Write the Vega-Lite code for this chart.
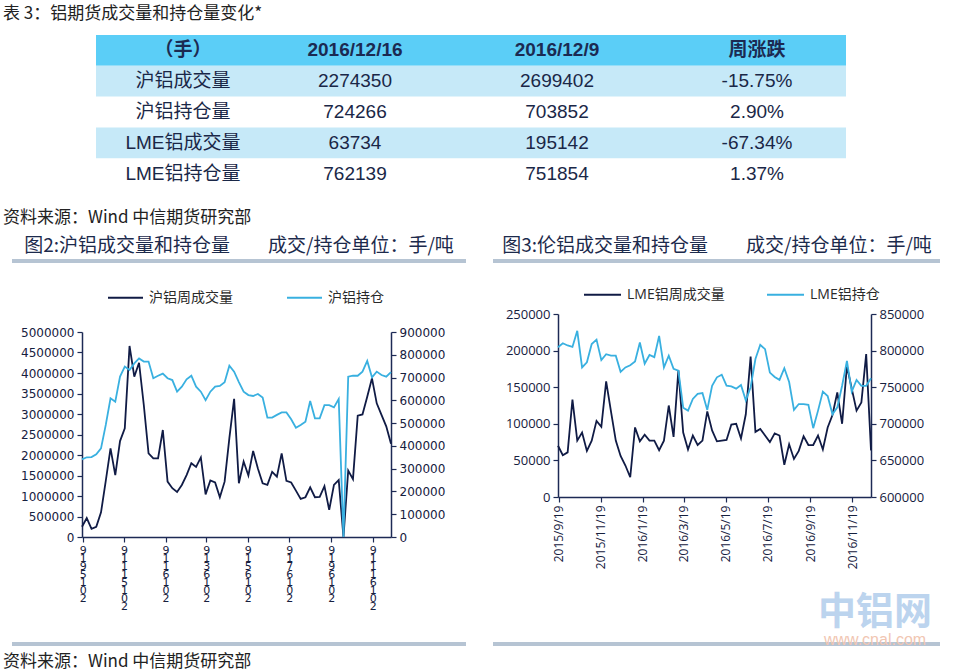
{
 "$schema": "https://vega.github.io/schema/vega-lite/v6.json",
 "background": "white",
 "padding": {"left": 3, "top": 5, "right": 3, "bottom": 1},
 "config": {
   "view": {"stroke": null},
   "font": "Noto Sans CJK SC",
   "title": {"font": "Noto Sans CJK SC", "fontWeight": "normal", "color": "#1C2A4C"},
   "axis": {"grid": false, "domainColor": "#1D2A55", "tickColor": "#1D2A55", "labelColor": "#16203E", "domainWidth": 1.5, "tickWidth": 1.2, "tickSize": 5, "labelPadding": 3},
   "legend": {"symbolType": "stroke", "symbolStrokeWidth": 1.8, "labelColor": "#2A2A2A"}
 },
 "resolve": {"scale": {"color": "independent"}, "legend": {"color": "independent"}},
 "datasets": {
  "sh": [
   {"date":"2015/09/18","vol":250000,"oi":341000},
   {"date":"2015/09/25","vol":460000,"oi":350000},
   {"date":"2015/10/02","vol":200000,"oi":351000},
   {"date":"2015/10/09","vol":250000,"oi":363000},
   {"date":"2015/10/16","vol":600000,"oi":389000},
   {"date":"2015/10/23","vol":1370000,"oi":492000},
   {"date":"2015/10/30","vol":2160000,"oi":609000},
   {"date":"2015/11/06","vol":1510000,"oi":594000},
   {"date":"2015/11/13","vol":2340000,"oi":704000},
   {"date":"2015/11/20","vol":2650000,"oi":748000},
   {"date":"2015/11/27","vol":4660000,"oi":733000},
   {"date":"2015/12/04","vol":3910000,"oi":762000},
   {"date":"2015/12/11","vol":4250000,"oi":784000},
   {"date":"2015/12/18","vol":3220000,"oi":770000},
   {"date":"2015/12/25","vol":2040000,"oi":770000},
   {"date":"2016/01/01","vol":1920000,"oi":697000},
   {"date":"2016/01/08","vol":1920000,"oi":708000},
   {"date":"2016/01/15","vol":2610000,"oi":717000},
   {"date":"2016/01/22","vol":1350000,"oi":697000},
   {"date":"2016/01/29","vol":1190000,"oi":689000},
   {"date":"2016/02/05","vol":1100000,"oi":638000},
   {"date":"2016/02/12","vol":1270000,"oi":660000},
   {"date":"2016/02/19","vol":1510000,"oi":692000},
   {"date":"2016/02/26","vol":1800000,"oi":708000},
   {"date":"2016/03/04","vol":1710000,"oi":660000},
   {"date":"2016/03/11","vol":1940000,"oi":638000},
   {"date":"2016/03/18","vol":1040000,"oi":601000},
   {"date":"2016/03/25","vol":1380000,"oi":638000},
   {"date":"2016/04/01","vol":1330000,"oi":660000},
   {"date":"2016/04/08","vol":970000,"oi":663000},
   {"date":"2016/04/15","vol":1350000,"oi":679000},
   {"date":"2016/04/22","vol":2410000,"oi":752000},
   {"date":"2016/04/29","vol":3370000,"oi":726000},
   {"date":"2016/05/06","vol":1310000,"oi":680000},
   {"date":"2016/05/13","vol":1840000,"oi":638000},
   {"date":"2016/05/20","vol":1500000,"oi":623000},
   {"date":"2016/05/27","vol":2100000,"oi":619000},
   {"date":"2016/06/03","vol":1670000,"oi":628000},
   {"date":"2016/06/10","vol":1310000,"oi":612000},
   {"date":"2016/06/17","vol":1270000,"oi":524000},
   {"date":"2016/06/24","vol":1590000,"oi":524000},
   {"date":"2016/07/01","vol":1470000,"oi":536000},
   {"date":"2016/07/08","vol":2040000,"oi":547000},
   {"date":"2016/07/15","vol":1370000,"oi":547000},
   {"date":"2016/07/22","vol":1330000,"oi":517000},
   {"date":"2016/07/29","vol":1130000,"oi":480000},
   {"date":"2016/08/05","vol":930000,"oi":492000},
   {"date":"2016/08/12","vol":970000,"oi":506000},
   {"date":"2016/08/19","vol":1210000,"oi":597000},
   {"date":"2016/08/26","vol":970000,"oi":521000},
   {"date":"2016/09/02","vol":980000,"oi":521000},
   {"date":"2016/09/09","vol":1240000,"oi":579000},
   {"date":"2016/09/16","vol":660000,"oi":579000},
   {"date":"2016/09/23","vol":1270000,"oi":569000},
   {"date":"2016/09/30","vol":1390000,"oi":606000},
   {"date":"2016/10/07","vol":0,"oi":0},
   {"date":"2016/10/14","vol":1620000,"oi":704000},
   {"date":"2016/10/21","vol":1410000,"oi":708000},
   {"date":"2016/10/28","vol":2960000,"oi":708000},
   {"date":"2016/11/04","vol":2990000,"oi":726000},
   {"date":"2016/11/11","vol":3420000,"oi":773000},
   {"date":"2016/11/18","vol":3870000,"oi":701000},
   {"date":"2016/11/25","vol":3260000,"oi":726000},
   {"date":"2016/12/02","vol":2980000,"oi":711000},
   {"date":"2016/12/09","vol":2699402,"oi":703852},
   {"date":"2016/12/16","vol":2274350,"oi":724266}
  ],
  "lme": [
   {"date":"2015/09/18","vol":70000,"oi":804500},
   {"date":"2015/09/25","vol":57000,"oi":810000},
   {"date":"2015/10/02","vol":61000,"oi":807000},
   {"date":"2015/10/09","vol":133000,"oi":805000},
   {"date":"2015/10/16","vol":77000,"oi":827000},
   {"date":"2015/10/23","vol":88000,"oi":777000},
   {"date":"2015/10/30","vol":63000,"oi":784000},
   {"date":"2015/11/06","vol":77000,"oi":809000},
   {"date":"2015/11/13","vol":104000,"oi":815000},
   {"date":"2015/11/20","vol":96000,"oi":787000},
   {"date":"2015/11/27","vol":158000,"oi":795000},
   {"date":"2015/12/04","vol":117000,"oi":793000},
   {"date":"2015/12/11","vol":77000,"oi":793000},
   {"date":"2015/12/18","vol":56000,"oi":771000},
   {"date":"2015/12/25","vol":43000,"oi":777000},
   {"date":"2016/01/01","vol":27000,"oi":780000},
   {"date":"2016/01/08","vol":95000,"oi":785000},
   {"date":"2016/01/15","vol":76000,"oi":811000},
   {"date":"2016/01/22","vol":85000,"oi":782000},
   {"date":"2016/01/29","vol":77000,"oi":794000},
   {"date":"2016/02/05","vol":77000,"oi":791000},
   {"date":"2016/02/12","vol":64000,"oi":820000},
   {"date":"2016/02/19","vol":77000,"oi":777000},
   {"date":"2016/02/26","vol":125000,"oi":793000},
   {"date":"2016/03/04","vol":82000,"oi":775000},
   {"date":"2016/03/11","vol":173000,"oi":772500},
   {"date":"2016/03/18","vol":88000,"oi":722000},
   {"date":"2016/03/25","vol":65000,"oi":718000},
   {"date":"2016/04/01","vol":84000,"oi":734000},
   {"date":"2016/04/08","vol":71000,"oi":741000},
   {"date":"2016/04/15","vol":77000,"oi":742000},
   {"date":"2016/04/22","vol":117000,"oi":719000},
   {"date":"2016/04/29","vol":91000,"oi":752000},
   {"date":"2016/05/06","vol":76000,"oi":763500},
   {"date":"2016/05/13","vol":77000,"oi":767000},
   {"date":"2016/05/20","vol":78000,"oi":752000},
   {"date":"2016/05/27","vol":99000,"oi":751000},
   {"date":"2016/06/03","vol":100000,"oi":748000},
   {"date":"2016/06/10","vol":80000,"oi":753000},
   {"date":"2016/06/17","vol":113000,"oi":732000},
   {"date":"2016/06/24","vol":192000,"oi":750000},
   {"date":"2016/07/01","vol":89000,"oi":788500},
   {"date":"2016/07/08","vol":93000,"oi":808000},
   {"date":"2016/07/15","vol":84000,"oi":802000},
   {"date":"2016/07/22","vol":75000,"oi":770000},
   {"date":"2016/07/29","vol":87000,"oi":764000},
   {"date":"2016/08/05","vol":84000,"oi":760000},
   {"date":"2016/08/12","vol":44000,"oi":776000},
   {"date":"2016/08/19","vol":72000,"oi":757000},
   {"date":"2016/08/26","vol":52000,"oi":719000},
   {"date":"2016/09/02","vol":63000,"oi":727000},
   {"date":"2016/09/09","vol":83000,"oi":727000},
   {"date":"2016/09/16","vol":71000,"oi":726000},
   {"date":"2016/09/23","vol":71000,"oi":694000},
   {"date":"2016/09/30","vol":84000,"oi":718000},
   {"date":"2016/10/07","vol":65000,"oi":744000},
   {"date":"2016/10/14","vol":95000,"oi":738000},
   {"date":"2016/10/21","vol":112000,"oi":713000},
   {"date":"2016/10/28","vol":143000,"oi":722500},
   {"date":"2016/11/04","vol":100000,"oi":752000},
   {"date":"2016/11/11","vol":179000,"oi":786000},
   {"date":"2016/11/18","vol":148000,"oi":744000},
   {"date":"2016/11/25","vol":118000,"oi":760000},
   {"date":"2016/12/02","vol":129000,"oi":752000},
   {"date":"2016/12/09","vol":195142,"oi":751854},
   {"date":"2016/12/16","vol":63734,"oi":762139}
  ],
  "table": [
   {"item":"（手）","c1216":"2016/12/16","c129":"2016/12/9","chg":"周涨跌"},
   {"item":"沪铝成交量","c1216":"2274350","c129":"2699402","chg":"-15.75%"},
   {"item":"沪铝持仓量","c1216":"724266","c129":"703852","chg":"2.90%"},
   {"item":"LME铝成交量","c1216":"63734","c129":"195142","chg":"-67.34%"},
   {"item":"LME铝持仓量","c1216":"762139","c129":"751854","chg":"1.37%"}
  ]
 },
 "title": {"text": "资料来源：Wind 中信期货研究部", "orient": "bottom", "anchor": "start", "fontSize": 17, "color": "#222222", "offset": 6},
 "spacing": 20,
 "vconcat": [
  {
   "width": 770, "height": 154,
   "title": {"text": "表 3：铝期货成交量和持仓量变化*", "anchor": "start", "fontSize": 17, "color": "#222222", "offset": 12, "dx": -79},
   "data": {"name": "table"},
   "encoding": {"y": {"field": "item", "type": "nominal", "sort": null, "scale": {"domain": ["（手）","沪铝成交量","沪铝持仓量","LME铝成交量","LME铝持仓量"], "paddingInner": 0, "paddingOuter": 0}, "axis": null}},
   "layer": [
    {"transform": [{"filter": "datum.item === '（手）'"}], "mark": {"type": "rect", "color": "#5BCEF7"},
     "encoding": {
      "x": {"datum": 0, "type": "quantitative", "scale": {"domain": [0,1,2,3,4,5], "range": [14,101,273,475,675,764], "nice": false, "zero": false}, "axis": null},
      "x2": {"datum": 5}}},
    {"transform": [{"filter": "datum.item === '沪铝成交量' || datum.item === 'LME铝成交量'"}], "mark": {"type": "rect", "color": "#C6E9F8"},
     "encoding": {"x": {"datum": 0, "type": "quantitative"}, "x2": {"datum": 5}}},
    {"transform": [{"filter": "datum.item === '（手）'"}], "mark": {"type": "text", "font": "Liberation Sans, Noto Sans CJK SC", "fontSize": 19, "fontWeight": "bold", "color": "#1B2A52"}, "encoding": {"x": {"datum": 1, "type": "quantitative"}, "text": {"field": "item"}}},
    {"transform": [{"filter": "datum.item === '（手）'"}], "mark": {"type": "text", "font": "Liberation Sans, Noto Sans CJK SC", "fontSize": 19, "fontWeight": "bold", "color": "#1B2A52"}, "encoding": {"x": {"datum": 2, "type": "quantitative"}, "text": {"field": "c1216"}}},
    {"transform": [{"filter": "datum.item === '（手）'"}], "mark": {"type": "text", "font": "Liberation Sans, Noto Sans CJK SC", "fontSize": 19, "fontWeight": "bold", "color": "#1B2A52"}, "encoding": {"x": {"datum": 3, "type": "quantitative"}, "text": {"field": "c129"}}},
    {"transform": [{"filter": "datum.item === '（手）'"}], "mark": {"type": "text", "font": "Liberation Sans, Noto Sans CJK SC", "fontSize": 19, "fontWeight": "bold", "color": "#1B2A52"}, "encoding": {"x": {"datum": 4, "type": "quantitative"}, "text": {"field": "chg"}}},
    {"transform": [{"filter": "datum.item !== '（手）'"}], "mark": {"type": "text", "font": "Liberation Sans, Noto Sans CJK SC", "fontSize": 19, "color": "#1A2747"}, "encoding": {"x": {"datum": 1, "type": "quantitative"}, "text": {"field": "item"}}},
    {"transform": [{"filter": "datum.item !== '（手）'"}], "mark": {"type": "text", "font": "Liberation Sans, Noto Sans CJK SC", "fontSize": 19, "color": "#1A2747"}, "encoding": {"x": {"datum": 2, "type": "quantitative"}, "text": {"field": "c1216"}}},
    {"transform": [{"filter": "datum.item !== '（手）'"}], "mark": {"type": "text", "font": "Liberation Sans, Noto Sans CJK SC", "fontSize": 19, "color": "#1A2747"}, "encoding": {"x": {"datum": 3, "type": "quantitative"}, "text": {"field": "c129"}}},
    {"transform": [{"filter": "datum.item !== '（手）'"}], "mark": {"type": "text", "font": "Liberation Sans, Noto Sans CJK SC", "fontSize": 19, "color": "#1A2747"}, "encoding": {"x": {"datum": 4, "type": "quantitative"}, "text": {"field": "chg"}}}
   ]
  },
  {
   "title": {"text": "资料来源：Wind 中信期货研究部", "anchor": "start", "fontSize": 17, "color": "#222222", "offset": 10},
   "spacing": 27,
   "resolve": {"scale": {"color": "independent"}, "legend": {"color": "independent"}},
   "hconcat": [
    {
     "spacing": 31,
     "vconcat": [
      {
       "spacing": 63,
       "vconcat": [
        {
         "width": 384, "height": 4,
         "title": {"text": "图2:沪铝成交量和持仓量　　成交/持仓单位：手/吨", "fontSize": 19, "anchor": "middle", "offset": 3, "color": "#1C2A4C", "dx": -35},
         "data": {"values": [{"k": 1}]},
         "mark": {"type": "rect", "color": "#B6C4D3"},
         "encoding": {
          "x": {"datum": -70, "type": "quantitative", "scale": {"domain": [0, 384], "nice": false, "zero": false}, "axis": null},
          "x2": {"datum": 384},
          "y": {"datum": 0, "type": "quantitative", "scale": {"domain": [0, 1], "nice": false}, "axis": null},
          "y2": {"datum": 1}
         }
        },
        {
         "width": 309, "height": 205,
         "data": {"name": "sh"},
         "encoding": {
          "x": {"field": "date", "type": "temporal",
                "scale": {"domain": [{"year": 2015, "month": 9, "date": 18}, {"year": 2016, "month": 12, "date": 16}]},
                "axis": {"title": null, "values": [{"year":2015,"month":9,"date":19},{"year":2015,"month":11,"date":19},{"year":2016,"month":1,"date":19},{"year":2016,"month":3,"date":19},{"year":2016,"month":5,"date":19},{"year":2016,"month":7,"date":19},{"year":2016,"month":9,"date":19},{"year":2016,"month":11,"date":19}],
                         "labelExpr": "reverse(split(timeFormat(datum.value, '%Y%-m%-d'), ''))",
                         "labelAngle": 0, "labelAlign": "center", "labelBaseline": "top", "labelFont": "DejaVu Sans", "labelFontSize": 11, "labelLineHeight": 8, "labelPadding": 2, "labelOverlap": false, "labelFlush": false}}
         },
         "layer": [
          {"mark": {"type": "line", "strokeWidth": 1.8},
           "encoding": {
            "y": {"field": "vol", "type": "quantitative", "scale": {"domain": [0, 5000000], "nice": false},
                  "axis": {"title": null, "values": [0,500000,1000000,1500000,2000000,2500000,3000000,3500000,4000000,4500000,5000000], "format": "d", "labelFont": "DejaVu Sans", "labelFontSize": 12, "minExtent": 79}},
            "color": {"datum": "沪铝周成交量", "type": "nominal", "scale": {"domain": ["沪铝周成交量", "沪铝持仓"], "range": ["#101B45", "#39B0E0"]},
                      "legend": {"orient": "none", "legendX": 25, "legendY": 20, "direction": "horizontal", "title": null, "labelFont": "Noto Sans CJK SC", "labelFontSize": 14, "symbolSize": 1225, "labelOffset": 5, "columnPadding": 50}}
           }},
          {"mark": {"type": "line", "strokeWidth": 1.8},
           "encoding": {
            "y": {"field": "oi", "type": "quantitative", "scale": {"domain": [0, 900000], "nice": false},
                  "axis": {"title": null, "orient": "right", "values": [0,100000,200000,300000,400000,500000,600000,700000,800000,900000], "format": "d", "labelFont": "DejaVu Sans", "labelFontSize": 12}},
            "color": {"datum": "沪铝持仓", "type": "nominal", "scale": {"domain": ["沪铝周成交量", "沪铝持仓"], "range": ["#101B45", "#39B0E0"]}}
           }}
         ],
         "resolve": {"scale": {"y": "independent"}}
        }
       ]
      },
      {
       "width": 384, "height": 4,
       "data": {"values": [{"k": 1}]},
       "mark": {"type": "rect", "color": "#B6C4D3"},
       "encoding": {
        "x": {"datum": -70, "type": "quantitative", "scale": {"domain": [0, 384], "nice": false, "zero": false}, "axis": null},
        "x2": {"datum": 384},
        "y": {"datum": 0, "type": "quantitative", "scale": {"domain": [0, 1], "nice": false}, "axis": null},
        "y2": {"datum": 1}
       }
      }
     ]
    },
    {
     "spacing": 25,
     "vconcat": [
      {
       "spacing": 45,
       "vconcat": [
        {
         "width": 382, "height": 4,
         "title": {"text": "图3:伦铝成交量和持仓量　　成交/持仓单位：手/吨", "fontSize": 19, "anchor": "middle", "offset": 3, "color": "#1C2A4C", "dx": -32},
         "data": {"values": [{"k": 1}]},
         "mark": {"type": "rect", "color": "#B6C4D3"},
         "encoding": {
          "x": {"datum": -65, "type": "quantitative", "scale": {"domain": [0, 382], "nice": false, "zero": false}, "axis": null},
          "x2": {"datum": 382},
          "y": {"datum": 0, "type": "quantitative", "scale": {"domain": [0, 1], "nice": false}, "axis": null},
          "y2": {"datum": 1}
         }
        },
        {
         "width": 313, "height": 183,
         "data": {"name": "lme"},
         "encoding": {
          "x": {"field": "date", "type": "temporal",
                "scale": {"domain": [{"year": 2015, "month": 9, "date": 18}, {"year": 2016, "month": 12, "date": 16}]},
                "axis": {"title": null, "values": [{"year":2015,"month":9,"date":19},{"year":2015,"month":11,"date":19},{"year":2016,"month":1,"date":19},{"year":2016,"month":3,"date":19},{"year":2016,"month":5,"date":19},{"year":2016,"month":7,"date":19},{"year":2016,"month":9,"date":19},{"year":2016,"month":11,"date":19}],
                         "format": "%Y/%-m/%-d", "labelAngle": -90, "labelFont": "Open Sans", "labelFontSize": 12, "labelOverlap": false, "labelFlush": false}}
         },
         "layer": [
          {"mark": {"type": "line", "strokeWidth": 1.8},
           "encoding": {
            "y": {"field": "vol", "type": "quantitative", "scale": {"domain": [0, 250000], "nice": false},
                  "axis": {"title": null, "values": [0,50000,100000,150000,200000,250000], "format": "d", "labelFont": "Open Sans", "labelFontSize": 13, "minExtent": 65}},
            "color": {"datum": "LME铝周成交量", "type": "nominal", "scale": {"domain": ["LME铝周成交量", "LME铝持仓"], "range": ["#101B45", "#39B0E0"]},
                      "legend": {"orient": "none", "legendX": 25, "legendY": 16, "direction": "horizontal", "title": null, "labelFont": "Open Sans, Noto Sans CJK SC", "labelFontSize": 14, "symbolSize": 1369, "labelOffset": 5, "columnPadding": 38}}
           }},
          {"mark": {"type": "line", "strokeWidth": 1.8},
           "encoding": {
            "y": {"field": "oi", "type": "quantitative", "scale": {"domain": [600000, 850000], "nice": false, "zero": false},
                  "axis": {"title": null, "orient": "right", "values": [600000,650000,700000,750000,800000,850000], "format": "d", "labelFont": "Open Sans", "labelFontSize": 13}},
            "color": {"datum": "LME铝持仓", "type": "nominal", "scale": {"domain": ["LME铝周成交量", "LME铝持仓"], "range": ["#101B45", "#39B0E0"]}}
           }}
         ],
         "resolve": {"scale": {"y": "independent"}}
        }
       ]
      },
      {
       "width": 382, "height": 4,
       "data": {"values": [{"k": 1}]},
       "encoding": {
        "x": {"datum": -65, "type": "quantitative", "scale": {"domain": [0, 382], "nice": false, "zero": false}, "axis": null},
        "y": {"datum": 0, "type": "quantitative", "scale": {"domain": [0, 1], "nice": false}, "axis": null}
       },
       "layer": [
        {"mark": {"type": "rect", "color": "#B6C4D3"},
         "encoding": {"x2": {"datum": 382}, "y2": {"datum": 1}}},
        {"mark": {"type": "text", "text": "中铝网", "font": "Noto Sans CJK SC", "fontSize": 38, "fontWeight": "bold", "color": "#BCD4EE", "baseline": "middle"},
         "encoding": {"x": {"datum": 317, "type": "quantitative"}, "y": {"datum": 8.25, "type": "quantitative"}}},
        {"mark": {"type": "text", "text": "www.cnal.com", "font": "Liberation Sans", "fontSize": 16, "color": "#F1C6B2", "baseline": "middle"},
         "encoding": {"x": {"datum": 317, "type": "quantitative"}, "y": {"datum": 1.6, "type": "quantitative"}}}
       ]
      }
     ]
    }
   ]
  }
 ]
}
